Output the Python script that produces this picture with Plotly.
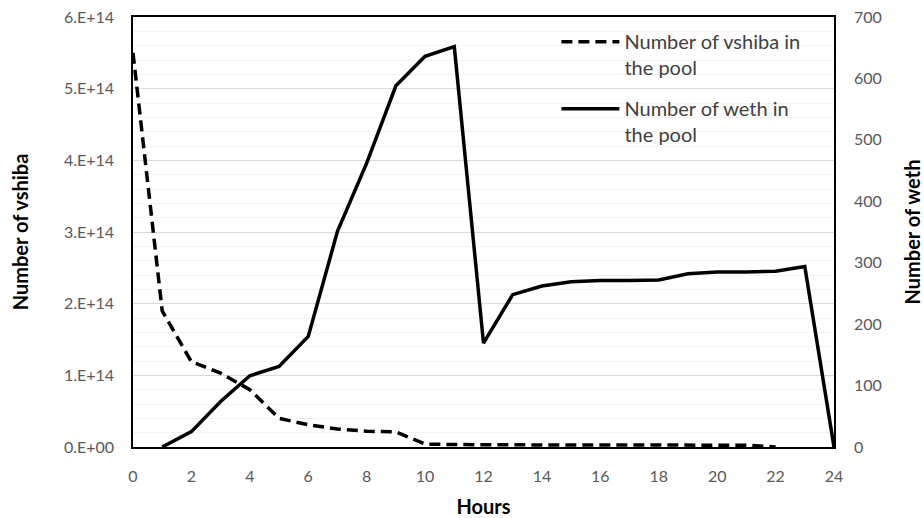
import plotly.graph_objects as go

hours = list(range(0, 25))
vshiba = [5.5e14, 1.9e14, 1.19e14, 1.03e14, 0.80e14, 0.40e14, 0.31e14, 0.25e14,
          0.22e14, 0.21e14, 0.04e14, 0.03e14, 0.03e14, 0.03e14, 0.03e14, 0.03e14,
          0.03e14, 0.03e14, 0.03e14, 0.03e14, 0.03e14, 0.025e14, 0.0, None, None]
weth = [None, 0, 25, 74, 116, 131, 180, 351, 462, 588, 636, 652, 169, 248, 262,
        269, 271, 271, 272, 282, 285, 285, 286, 294, 0]

left_tickvals = [0, 1e14, 2e14, 3e14, 4e14, 5e14, 6e14]
left_ticktext = ["0.E+00", "1.E+14", "2.E+14", "3.E+14", "4.E+14", "5.E+14", "6.E+14"]

FONT = "Lato"
TICK = dict(family=FONT, size=16, color="#595959")
TITLE = dict(family=FONT, size=20, color="#000000", weight="bold")

fig = go.Figure()
fig.add_trace(go.Scatter(
    x=hours, y=vshiba, mode="lines", name="Number of vshiba in<br>the pool",
    line=dict(color="black", width=3.5, dash="11px,6px"), yaxis="y",
    legendgroup="a"))
fig.add_trace(go.Scatter(
    x=hours, y=weth, mode="lines", name="Number of weth in<br>the pool",
    line=dict(color="black", width=3.5), yaxis="y2", legendgroup="b"))

fig.update_layout(
    width=924, height=518,
    margin=dict(l=133, r=90, t=17, b=71, autoexpand=False),
    paper_bgcolor="white", plot_bgcolor="white",
    font=dict(family=FONT),
    showlegend=True,
    legend=dict(x=0.604, y=0.988, xanchor="left", yanchor="top",
                font=dict(family=FONT, size=20, color="#404040"),
                bgcolor="rgba(255,255,255,0)", valign="top",
                tracegroupgap=12, itemwidth=58),
    xaxis=dict(range=[0, 24], tickmode="linear", tick0=0, dtick=2,
               showgrid=False, zeroline=False, showline=True, mirror=True,
               linecolor="black", linewidth=1.5, tickfont=TICK,
               ticks="", ticklabelstandoff=14, automargin=False,
               title=dict(text="Hours", font=TITLE, standoff=20)),
    yaxis=dict(range=[0, 6e14], tickmode="array", tickvals=left_tickvals,
               ticktext=left_ticktext, showgrid=True, gridcolor="#d9d9d9",
               gridwidth=1, zeroline=False, showline=True, linecolor="black",
               linewidth=1.5, tickfont=TICK, ticks="", ticklabelstandoff=14,
               automargin=False,
               minor=dict(tickmode="linear", tick0=0, dtick=2e13, showgrid=True,
                          gridcolor="#f2f2f2", gridwidth=1, ticks=""),
               title=dict(text="Number of vshiba", font=TITLE, standoff=30)),
    yaxis2=dict(range=[0, 700], tickmode="linear", tick0=0, dtick=100,
                overlaying="y", side="right", showgrid=False, zeroline=False,
                showline=True, linecolor="black", linewidth=1.5, tickfont=TICK,
                ticks="", ticklabelstandoff=15, automargin=False,
                title=dict(text="Number of weth", font=TITLE, standoff=33)),
)

fig.write_html("out.html")
